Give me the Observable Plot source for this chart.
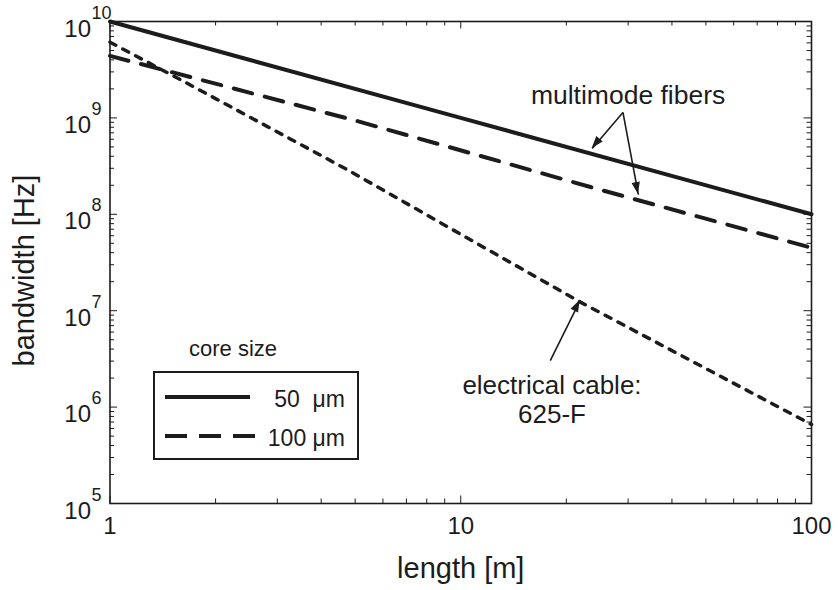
<!DOCTYPE html>
<html>
<head>
<meta charset="utf-8">
<script src="https://cdn.jsdelivr.net/npm/d3@7"></script>
<script src="https://cdn.jsdelivr.net/npm/@observablehq/plot@0.6"></script>
<style>
  html, body { margin: 0; padding: 0; background: #fff; }
</style>
</head>
<body>
<div id="chart"></div>
<script>
// ---- data ----
const lengths50 = [1, 10, 100];
const bandwidth50 = [1e10, 1e9, 1e8];

const lengths100 = [1, 5, 24.4, 77.6, 100];
const bandwidth100 = [4.4e9, 9.4e8, 1.84e8, 5.8e7, 4.5e7];

const lengthsCable = [1, 1.64, 4.75, 10, 22, 100];
const bandwidthCable = [6.1e9, 2.34e9, 2.9e8, 6.2e7, 1.22e7, 6.6e5];

const xMajor = [1, 10, 100];
const xMinor = [2, 3, 4, 5, 6, 7, 8, 9, 20, 30, 40, 50, 60, 70, 80, 90];
const yExponents = [5, 6, 7, 8, 9, 10];
const yMinor = yExponents.slice(0, -1).flatMap(e => [2, 3, 4, 5, 6, 7, 8, 9].map(m => m * 10 ** e));

const xLabel = "length [m]";
const yLabel = "bandwidth [Hz]";
const legendTitle = "core size";
const legendLabels = ["50  μm", "100 μm"];

const fibersNote = {text: "multimode fibers", x: 30, y: 1.41e9};
const fibersArrows = [
  {x1: 29.0, y1: 1.14e9, x2: 23.7, y2: 4.82e8},
  {x1: 29.0, y1: 1.14e9, x2: 32.1, y2: 1.6e8}
];
const cableNote = {text: "electrical cable:\n625-F", x: 18.2, y: 6.76e5};
const cableArrow = [{x1: 18.0, y1: 3.04e6, x2: 21.9, y2: 1.28e7}];
const allArrows = fibersArrows.concat(cableArrow);

// ---- layout ----
const W = 838, H = 590;
const mL = 109.5, mR = 27, mT = 21, mB = 87;
const frameW = W - mL - mR, frameH = H - mT - mB;
const FONT = "'Liberation Sans', Arial, Helvetica, sans-serif";
const INK = "#1c1c1c";
const majorLen = 7.5, minorLen = 4.5;

const toRows = (xs, ys) => xs.map((x, i) => ({x, y: ys[i]}));

// filled arrow heads, placed through the plot's scales
function arrowHeads(index, scales) {
  const g = d3.create("svg:g").attr("fill", INK);
  const len = 12, half = 4.2;
  for (const a of allArrows) {
    const x1 = scales.x(a.x1), y1 = scales.y(a.y1);
    const x2 = scales.x(a.x2), y2 = scales.y(a.y2);
    const ang = Math.atan2(y2 - y1, x2 - x1);
    const bx = x2 - len * Math.cos(ang), by = y2 - len * Math.sin(ang);
    const px = -Math.sin(ang) * half, py = Math.cos(ang) * half;
    g.append("path").attr("d", `M${x2},${y2}L${bx + px},${by + py}L${bx - px},${by - py}Z`);
  }
  return g.node();
}

function legendMark() {
  const g = d3.create("svg:g").attr("font-family", FONT).attr("fill", INK);
  g.append("text").attr("x", 233).attr("y", 356).attr("text-anchor", "middle")
    .attr("font-size", 22).text(legendTitle);
  g.append("rect").attr("x", 154).attr("y", 372).attr("width", 204).attr("height", 87)
    .attr("fill", "none").attr("stroke", INK).attr("stroke-width", 2);
  const dashes = [null, "22,12"];
  legendLabels.forEach((lab, i) => {
    const y = 397 + i * 39;
    g.append("line").attr("x1", 165).attr("x2", i ? 255 : 250).attr("y1", y).attr("y2", y)
      .attr("stroke", INK).attr("stroke-width", 4)
      .attr("stroke-dasharray", dashes[i]);
    g.append("text").attr("x", 345).attr("y", y + 9.5).attr("text-anchor", "end")
      .attr("font-size", 23).style("white-space", "pre").text(lab);
  });
  return g.node();
}

const plot = Plot.plot({
  width: W,
  height: H,
  marginLeft: mL,
  marginRight: mR,
  marginTop: mT,
  marginBottom: mB,
  style: {fontFamily: FONT, background: "#fff", color: INK, overflow: "visible"},
  x: {type: "log", domain: [1, 100], axis: null},
  y: {type: "log", domain: [1e5, 1e10], axis: null},
  marks: [
    // ticks (inward, all four sides)
    Plot.tickX(xMajor, {x: d => d, insetTop: frameH - majorLen, stroke: INK, strokeWidth: 1}),
    Plot.tickX(xMinor, {x: d => d, insetTop: frameH - minorLen, stroke: INK, strokeWidth: 1}),
    Plot.tickX(xMajor, {x: d => d, insetBottom: frameH - majorLen, stroke: INK, strokeWidth: 1}),
    Plot.tickX(xMinor, {x: d => d, insetBottom: frameH - minorLen, stroke: INK, strokeWidth: 1}),
    Plot.tickY(yExponents, {y: e => 10 ** e, insetRight: frameW - majorLen, stroke: INK, strokeWidth: 1}),
    Plot.tickY(yMinor, {y: d => d, insetRight: frameW - minorLen, stroke: INK, strokeWidth: 1}),
    Plot.tickY(yExponents, {y: e => 10 ** e, insetLeft: frameW - majorLen, stroke: INK, strokeWidth: 1}),
    Plot.tickY(yMinor, {y: d => d, insetLeft: frameW - minorLen, stroke: INK, strokeWidth: 1}),

    // series
    Plot.line(toRows(lengths50, bandwidth50), {x: "x", y: "y", stroke: INK, strokeWidth: 4}),
    Plot.line(toRows(lengths100, bandwidth100), {x: "x", y: "y", stroke: INK, strokeWidth: 4, strokeDasharray: "19,13"}),
    Plot.line(toRows(lengthsCable, bandwidthCable), {x: "x", y: "y", stroke: INK, strokeWidth: 3.5, strokeDasharray: "6.5,8"}),

    // frame
    Plot.frame({stroke: INK, strokeWidth: 1.6}),

    // tick labels
    Plot.text(xMajor, {x: d => d, frameAnchor: "bottom", text: d => String(d), dy: 30,
      lineAnchor: "bottom", fontSize: 24, fill: INK}),
    Plot.text(yExponents, {y: e => 10 ** e, frameAnchor: "left", text: () => "10", dx: -19, dy: 15,
      textAnchor: "end", lineAnchor: "bottom", fontSize: 24, fill: INK}),
    Plot.text(yExponents, {y: e => 10 ** e, frameAnchor: "left", text: e => String(e), dx: -18.5, dy: -3,
      textAnchor: "start", lineAnchor: "bottom", fontSize: 18, fill: INK}),

    // axis labels
    Plot.text([xLabel], {frameAnchor: "bottom", text: d => d, dy: 74, textAnchor: "middle",
      lineAnchor: "bottom", fontSize: 29, fill: INK}),
    Plot.text([yLabel], {frameAnchor: "left", text: d => d, dx: -76.5, dy: 8, rotate: -90,
      textAnchor: "middle", lineAnchor: "bottom", fontSize: 29, fill: INK}),

    // annotations
    Plot.text([fibersNote], {x: "x", y: "y", text: "text", lineAnchor: "bottom", fontSize: 26.5, fill: INK}),
    Plot.link(allArrows, {x1: "x1", y1: "y1", x2: "x2", y2: "y2", stroke: INK, strokeWidth: 1.6}),
    arrowHeads,
    Plot.text([cableNote], {x: "x", y: "y", text: "text", lineAnchor: "bottom", lineHeight: 1.14, fontSize: 26, fill: INK}),

    // legend
    legendMark
  ]
});

document.getElementById("chart").appendChild(plot);
</script>
</body>
</html>
